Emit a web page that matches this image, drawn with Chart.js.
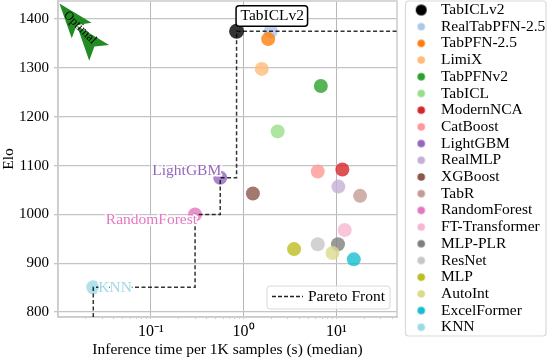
<!DOCTYPE html>
<html>
<head>
<meta charset="utf-8">
<style>
  html, body { margin: 0; padding: 0; background: #fff; }
  canvas { display: block; }
</style>
<script src="https://cdn.jsdelivr.net/npm/chart.js@4"></script>
</head>
<body>
<canvas id="chart" width="548" height="359"></canvas>
<script>
const FONT = '"Liberation Serif", serif'

const models = ['TabICLv2', 'RealTabPFN-2.5', 'TabPFN-2.5', 'LimiX', 'TabPFNv2', 'TabICL', 'ModernNCA', 'CatBoost', 'LightGBM', 'RealMLP', 'XGBoost', 'TabR', 'RandomForest', 'FT-Transformer', 'MLP-PLR', 'ResNet', 'MLP', 'AutoInt', 'ExcelFormer', 'KNN']
const times = [0.84, 1.96, 1.84, 1.57, 6.8, 2.33, 11.6, 6.3, 0.56, 10.5, 1.26, 18, 0.3, 12.3, 10.4, 6.3, 3.5, 9.1, 15.4, 0.024]
const elos = [1375, 1375, 1359, 1298, 1263, 1170, 1092, 1088, 1075, 1057, 1043, 1038, 1000, 968, 939, 939, 929, 921, 908, 851]
const colors = ['#000000', '#aec7e8', '#ff7f0e', '#ffbb78', '#2ca02c', '#98df8a', '#d62728', '#ff9896', '#9467bd', '#c5b0d5', '#8c564b', '#c49c94', '#e377c2', '#f7b6d2', '#7f7f7f', '#c7c7c7', '#bcbd22', '#dbdb8d', '#17becf', '#9edae5']

const paretoX = [0.024, 0.024, 0.3, 0.3, 0.56, 0.56, 0.84, 0.84, 45]
const paretoY = [790, 851, 851, 1000, 1000, 1075, 1075, 1375, 1375]

const arrowOneX = [0.01035, 0.023, 0.0159, 0.01406, 0.01035]
const arrowOneY = [1432, 1392.4, 1388, 1360.5, 1432]
const arrowTwoX = [0.01603, 0.03556, 0.02467, 0.0217, 0.01603]
const arrowTwoY = [1386.5, 1347, 1343.7, 1314.6, 1386.5]

const yTicks = [800, 900, 1000, 1100, 1200, 1300, 1400]
const xTicks = [0.02, 0.03, 0.04, 0.05, 0.06, 0.07, 0.08, 0.09, 0.1, 0.2, 0.3, 0.4, 0.5, 0.6, 0.7, 0.8, 0.9, 1, 2, 3, 4, 5, 6, 7, 8, 9, 10, 20, 30, 40]
const xLabels = { 0.1: '10\u207b\u00b9', 1: '10\u2070', 10: '10\u00b9' }

const hexAlpha = (hex, a) => hex + Math.round(a * 255).toString(16).padStart(2, '0')

const toXY = (xs, ys) => xs.map((x, i) => ({ x, y: ys[i] }))

// legend markers are canvases, the first one is bigger than the others
const legendMarker = (color, radius) => {
  const c = document.createElement('canvas')
  c.width = c.height = Math.ceil(radius * 2) + 2
  const g = c.getContext('2d')
  g.fillStyle = color
  g.beginPath()
  g.arc(c.width / 2, c.height / 2, radius, 0, Math.PI * 2)
  g.fill()
  return c
}

const LEGEND_SHIFT = 3

const frameAndBoxes = {
  id: 'frameAndBoxes',
  afterLayout(chart) {
    chart.legend.left += LEGEND_SHIFT
  },
  beforeDraw(chart) {
    const { ctx, legend } = chart
    ctx.save()
    ctx.fillStyle = '#fff'
    ctx.strokeStyle = '#d9d9d9'
    ctx.lineWidth = 1.2
    ctx.beginPath()
    ctx.roundRect(legend.left - LEGEND_SHIFT + 0.5, 1, 140.5, 335, 3)
    ctx.fill()
    ctx.stroke()
    ctx.restore()
  },
  beforeDatasetsDraw(chart) {
    const { ctx, chartArea: a } = chart
    ctx.save()
    ctx.strokeStyle = '#cccccc'
    ctx.lineWidth = 1.5
    ctx.strokeRect(a.left, a.top, a.right - a.left, a.bottom - a.top)
    ctx.restore()
  },
}

const annotations = {
  id: 'annotations',
  afterDatasetsDraw(chart) {
    const { ctx, scales } = chart
    const px = (name) => {
      const i = models.indexOf(name)
      return [scales.x.getPixelForValue(times[i]), scales.y.getPixelForValue(elos[i]), colors[i]]
    }
    ctx.save()
    ctx.font = '15.5px ' + FONT
    ctx.textBaseline = 'middle'
    ctx.lineJoin = 'round'

    const label = (name, align, dx, dy) => {
      const [x, y, color] = px(name)
      ctx.textAlign = align
      ctx.strokeStyle = '#fff'
      ctx.lineWidth = 3
      ctx.strokeText(name, x + dx, y + dy)
      ctx.fillStyle = color
      ctx.fillText(name, x + dx, y + dy)
    }
    label('LightGBM', 'right', 1, -7)
    label('RandomForest', 'right', 2, 5)
    label('KNN', 'left', 5, 0.5)

    // boxed label of the best model
    const [bx, by] = px('TabICLv2')
    ctx.fillStyle = '#fff'
    ctx.strokeStyle = '#000'
    ctx.lineWidth = 1.5
    ctx.beginPath()
    ctx.roundRect(bx - 0.5, by - 25.5, 71.5, 20.5, 3)
    ctx.fill()
    ctx.stroke()
    ctx.fillStyle = '#000'
    ctx.textAlign = 'left'
    ctx.fillText('TabICLv2', bx + 4, by - 15)

    // arrow text
    ctx.save()
    ctx.translate(scales.x.getPixelForValue(0.01726), scales.y.getPixelForValue(1382.6))
    ctx.rotate(Math.PI / 4)
    ctx.font = '12.5px ' + FONT
    ctx.textAlign = 'center'
    ctx.fillStyle = '#000'
    ctx.fillText('Optimal', 0, 0)
    ctx.restore()

    // Pareto Front legend box
    const x0 = scales.x.right - 130, y0 = scales.y.bottom - 31
    ctx.fillStyle = 'rgba(255,255,255,0.8)'
    ctx.strokeStyle = '#d9d9d9'
    ctx.lineWidth = 1
    ctx.beginPath()
    ctx.roundRect(x0, y0, 123, 23, 3)
    ctx.fill()
    ctx.stroke()
    ctx.strokeStyle = '#222'
    ctx.lineWidth = 1.5
    ctx.setLineDash([4, 2])
    ctx.beginPath()
    ctx.moveTo(x0 + 5, y0 + 10.5)
    ctx.lineTo(x0 + 36, y0 + 10.5)
    ctx.stroke()
    ctx.setLineDash([])
    ctx.fillStyle = '#000'
    ctx.fillText('Pareto Front', x0 + 41, y0 + 11)
    ctx.restore()
  },
}

new Chart(document.getElementById('chart').getContext('2d'), {
  type: 'scatter',
  data: {
    datasets: [
      ...models.map((name, i) => ({
        label: name,
        data: [{ x: times[i], y: elos[i] }],
        backgroundColor: hexAlpha(colors[i], 0.8),
        borderWidth: 0,
        pointRadius: i === 0 ? 7.5 : 7,
        order: 3 + models.length - i,
      })),
      {
        label: 'Pareto Front',
        data: toXY(paretoX, paretoY),
        showLine: true,
        pointRadius: 0,
        borderColor: 'rgba(0,0,0,0.8)',
        borderWidth: 1.5,
        borderDash: [4, 2.5],
        fill: false,
        tension: 0,
        order: 2,
      },
      {
        label: 'arrow1',
        data: toXY(arrowOneX, arrowOneY),
        showLine: true,
        pointRadius: 0,
        borderWidth: 0,
        backgroundColor: '#228b22',
        fill: 'shape',
        order: 1,
      },
      {
        label: 'arrow2',
        data: toXY(arrowTwoX, arrowTwoY),
        showLine: true,
        pointRadius: 0,
        borderWidth: 0,
        backgroundColor: '#228b22',
        fill: 'shape',
        order: 1,
      },
    ],
  },
  options: {
    responsive: false,
    animation: false,
    layout: { autoPadding: false, padding: { top: 1, right: 1, left: 0, bottom: 0 } },
    scales: {
      x: {
        type: 'logarithmic',
        min: 0.01,
        max: 45,
        afterBuildTicks: (scale) => { scale.ticks = xTicks.map((value) => ({ value, major: value in xLabels })) },
        afterFit: (scale) => { scale.height = 42 },
        ticks: {
          autoSkip: false,
          maxRotation: 0,
          padding: 3,
          color: '#000',
          font: { family: FONT, size: 16 },
          callback: (v) => xLabels[v] || '',
        },
        grid: {
          tickLength: 2,
          lineWidth: 1,
          color: (c) => (c.tick && c.tick.value in xLabels ? '#b8b8b8' : 'rgba(0,0,0,0)'),
          tickColor: '#cccccc',
        },
        border: { color: '#cccccc', width: 1.5 },
        title: { display: true, text: 'Inference time per 1K samples (s) (median)', color: '#000', font: { family: FONT, size: 15.5, lineHeight: 1 }, padding: { top: 0, bottom: 1 } },
      },
      y: {
        min: 790,
        max: 1437,
        afterBuildTicks: (scale) => { scale.ticks = yTicks.map((value) => ({ value })) },
        afterFit: (scale) => {
          scale.width = 58
          scale.paddingTop = 0
          scale.paddingBottom = 0
        },
        ticks: { color: '#000', padding: 5, font: { family: FONT, size: 15 } , callback: (v) => String(v) },
        grid: { tickLength: 4, lineWidth: 1.3, color: '#c4c4c4', tickColor: '#c4c4c4' },
        border: { color: '#cccccc', width: 1.5 },
        title: { display: true, text: 'Elo', color: '#000', font: { family: FONT, size: 15.5 }, padding: { top: 0, bottom: 1 } },
      },
      gap: {
        type: 'linear',
        position: 'right',
        ticks: { display: false },
        grid: { display: false },
        border: { display: false },
        afterFit: (scale) => { scale.width = 8 },
      },
    },
    plugins: {
      tooltip: { enabled: false },
      legend: {
        position: 'right',
        align: 'start',
        maxWidth: 142,
        labels: {
          usePointStyle: true,
          pointStyleWidth: 24,
          padding: 1.2,
          color: '#000',
          font: { family: FONT, size: 15.5, lineHeight: 1 },
          generateLabels: () => models.map((name, i) => ({
            text: name,
            datasetIndex: i,
            pointStyle: legendMarker(colors[i], i === 0 ? 5.5 : 3.8),
            fontColor: '#000',
            lineWidth: 0,
            strokeStyle: 'rgba(0,0,0,0)',
            fillStyle: colors[i],
          })),
        },
      },
    },
  },
  plugins: [frameAndBoxes, annotations],
})
</script>
</body>
</html>
